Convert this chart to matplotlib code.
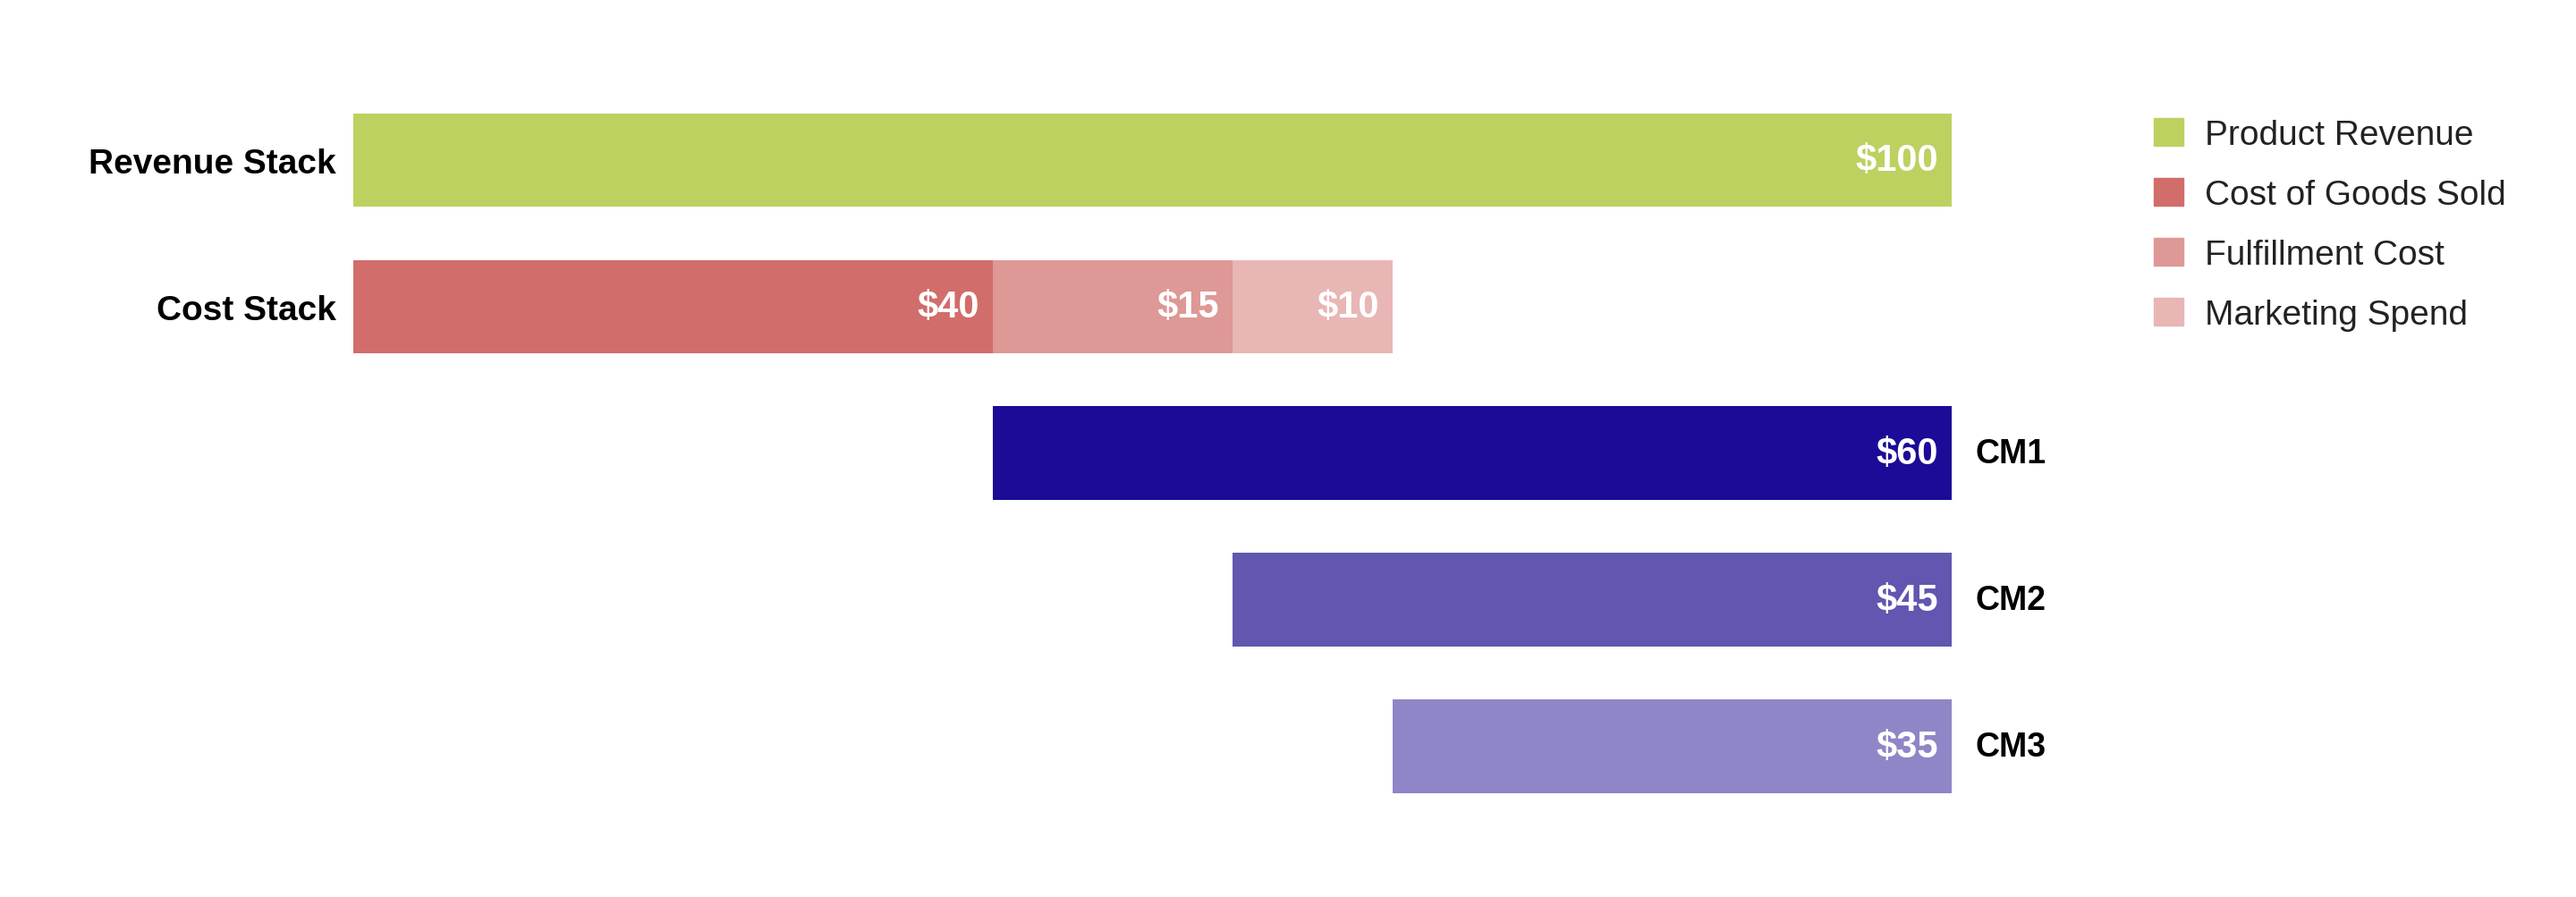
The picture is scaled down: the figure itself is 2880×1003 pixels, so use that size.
import matplotlib
matplotlib.use('Agg')
import matplotlib.pyplot as plt
from matplotlib.patches import Patch

plt.rcParams['font.family'] = ['Liberation Sans', 'DejaVu Sans']

# data
rows = ['Revenue Stack', 'Cost Stack', 'CM1', 'CM2', 'CM3']
revenue = 100
cost_names = ['Cost of Goods Sold', 'Fulfillment Cost', 'Marketing Spend']
cost_values = [40, 15, 10]
cm_names = ['CM1', 'CM2', 'CM3']
cm_values = [60, 45, 35]

rev_color = '#bcd160'
cost_colors = ['#d16d6a', '#de9896', '#e8b6b5']
cm_colors = ['#1c0b96', '#6156b0', '#8e86c6']

fig = plt.figure(figsize=(28.8, 10.04), dpi=100)
ax = fig.add_axes([0.1372, 0.0857, 0.6205, 0.8167])

bar_h = 0.64
val_kw = dict(ha='right', va='center', color='white', fontsize=30,
              fontweight='bold', textcoords='offset points', xytext=(-11, 0))

# revenue stack
ax.barh(0, revenue, height=bar_h, color=rev_color)
ax.annotate(f'${revenue}', (revenue, 0), **val_kw)

# cost stack
left = 0
for v, c in zip(cost_values, cost_colors):
    ax.barh(1, v, left=left, height=bar_h, color=c)
    left += v
    ax.annotate(f'${v}', (left, 1), **val_kw)

# contribution margins
left = 0
for i, (name, v) in enumerate(zip(cm_names, cm_values)):
    left += cost_values[i]
    y = 2 + i
    ax.barh(y, v, left=left, height=bar_h, color=cm_colors[i])
    ax.annotate(f'${v}', (left + v, y), **val_kw)
    ax.annotate(name, (left + v, y), ha='left', va='center', fontsize=27,
                fontweight='bold', textcoords='offset points', xytext=(19, 0),
                annotation_clip=False)

ax.set_xlim(0, 100)
ax.set_ylim(4.5, -0.5)
ax.set_yticks([0, 1])
ax.set_yticklabels(rows[:2], fontsize=28, fontweight='bold')
ax.tick_params(axis='y', length=0, pad=14)
ax.set_xticks([])
for s in ax.spines.values():
    s.set_visible(False)

handles = [Patch(color=rev_color, label='Product Revenue')]
handles += [Patch(color=c, label=n) for c, n in zip(cost_colors, cost_names)]
fig.legend(handles=handles, loc='upper left', bbox_to_anchor=(0.836, 0.868),
           frameon=False, fontsize=28, handlelength=0.85, handleheight=0.85,
           handletextpad=0.62, labelspacing=0.78, borderpad=0, borderaxespad=0,
           labelcolor='#222222')

fig.savefig('out.png', dpi=100)
